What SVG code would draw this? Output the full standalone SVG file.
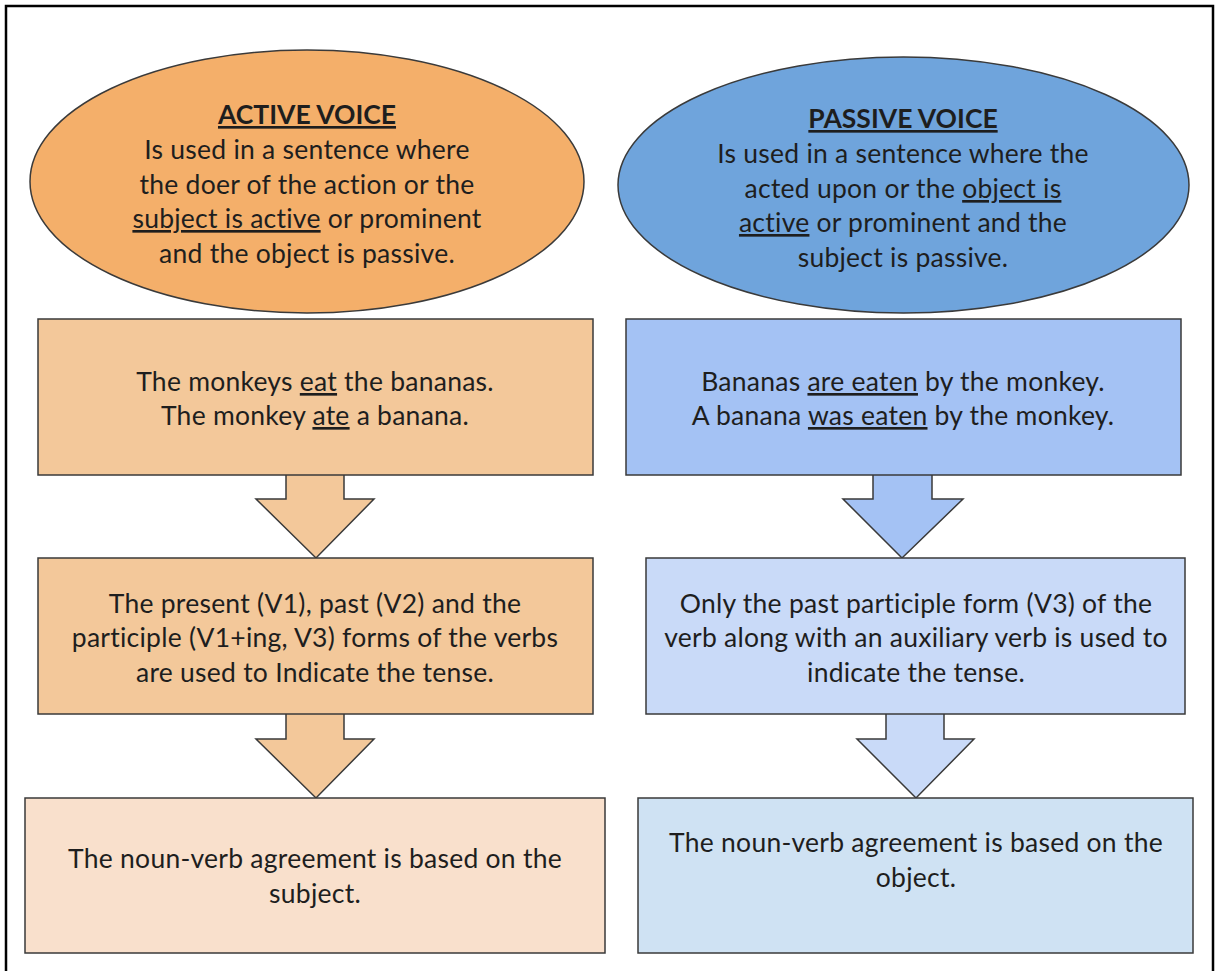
<svg xmlns="http://www.w3.org/2000/svg" width="1215" height="971" viewBox="0 0 1215 971">
<style>
text{font-family:Lato,"Open Sans","Liberation Sans",sans-serif;font-size:26.5px;letter-spacing:0.25px;fill:#1e1e1e;text-anchor:middle}
.t{font-weight:bold;font-size:26.5px;letter-spacing:0}
.u{text-decoration:underline}
.sh{stroke:#3a3a3a;stroke-width:1.5}
</style>
<rect x="6" y="6" width="1207" height="975" fill="#fff" stroke="#000" stroke-width="2.5"/>
<g id="connectors">
<path class="sh" fill="#f3c89a" d="M286,475 V499 H256 L316,558 L374,499 H344 V475"/>
<path class="sh" fill="#f3c89a" d="M286,714 V739 H256 L316,798 L374,739 H344 V714"/>
<path class="sh" fill="#a4c2f4" d="M873,475 V499 H843 L902,558 L963,499 H932 V475"/>
<path class="sh" fill="#c9daf8" d="M886,714 V739 H857 L916,798 L974,739 H944 V714"/>
</g>
<g id="active-voice">
<ellipse class="sh" cx="307" cy="181.5" rx="277" ry="131.5" fill="#f4af6a"/>
<text x="307" y="124"><tspan class="t u">ACTIVE VOICE</tspan></text>
<text x="307" y="159">Is used in a sentence where</text>
<text x="307" y="194">the doer of the action or the</text>
<text x="307" y="228"><tspan class="u">subject is active</tspan> or prominent</text>
<text x="307" y="263">and the object is passive.</text>
</g>
<g id="passive-voice">
<ellipse class="sh" cx="903.5" cy="185" rx="285.5" ry="128" fill="#6fa4dc"/>
<text x="903" y="128"><tspan class="t u">PASSIVE VOICE</tspan></text>
<text x="903" y="163">Is used in a sentence where the</text>
<text x="903" y="198">acted upon or the <tspan class="u">object is</tspan></text>
<text x="903" y="232"><tspan class="u">active</tspan> or prominent and the</text>
<text x="903" y="267">subject is passive.</text>
</g>
<g id="active-example">
<rect class="sh" x="38" y="319" width="555" height="156" fill="#f3c89a"/>
<text x="315" y="391">The monkeys <tspan class="u">eat</tspan> the bananas.</text>
<text x="315" y="425">The monkey <tspan class="u">ate</tspan> a banana.</text>
</g>
<g id="passive-example">
<rect class="sh" x="626" y="319" width="555" height="156" fill="#a4c2f4"/>
<text x="903" y="391">Bananas <tspan class="u">are eaten</tspan> by the monkey.</text>
<text x="903" y="425">A banana <tspan class="u">was eaten</tspan> by the monkey.</text>
</g>
<g id="active-tense">
<rect class="sh" x="38" y="558" width="555" height="156" fill="#f3c89a"/>
<text x="315" y="613">The present (V1), past (V2) and the</text>
<text x="315" y="647">participle (V1+ing, V3) forms of the verbs</text>
<text x="315" y="682">are used to Indicate the tense.</text>
</g>
<g id="passive-tense">
<rect class="sh" x="646" y="558" width="539" height="156" fill="#c9daf8"/>
<text x="916" y="613">Only the past participle form (V3) of the</text>
<text x="916" y="647">verb along with an auxiliary verb is used to</text>
<text x="916" y="682">indicate the tense.</text>
</g>
<g id="active-agreement">
<rect class="sh" x="25" y="798" width="580" height="155" fill="#f9e0cc"/>
<text x="315" y="868">The noun-verb agreement is based on the</text>
<text x="315" y="903">subject.</text>
</g>
<g id="passive-agreement">
<rect class="sh" x="638" y="798" width="555" height="155" fill="#cfe2f3"/>
<text x="916" y="852">The noun-verb agreement is based on the</text>
<text x="916" y="887">object.</text>
</g>
</svg>
